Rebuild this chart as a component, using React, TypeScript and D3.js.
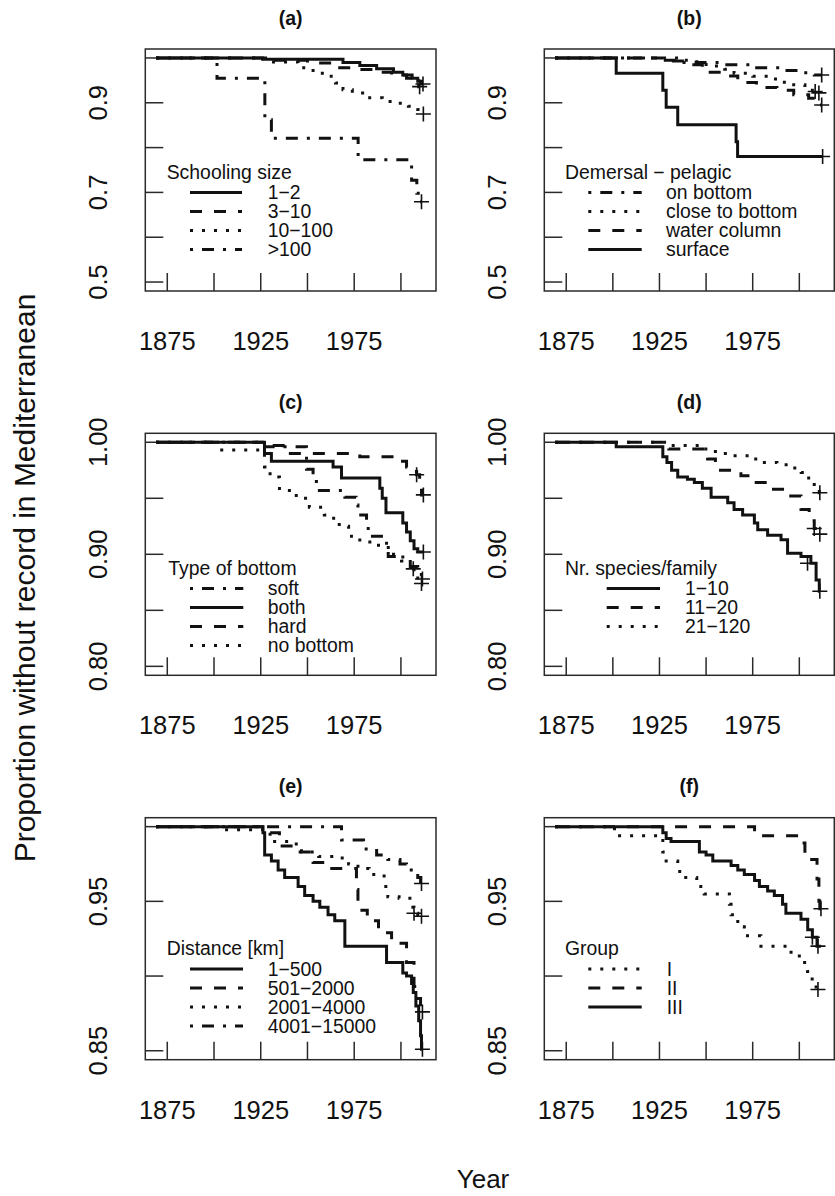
import React from 'react';
import * as d3 from 'd3';

type Pt = [number, number];

// ---------- x axis ----------
const xTicks = [1875, 1900, 1925, 1950, 1975, 2000];
const xTickLabels = [1875, 1925, 1975];

// ---------- (a) Schooling size ----------
const aLabels = ['1−2', '3−10', '10−100', '>100'];
const a_1_2: Pt[] = [[1869, 1], [1926, 0.997], [1969, 0.99], [1978, 0.983], [1987, 0.976], [1996, 0.968], [2001, 0.962], [2006, 0.955], [2009, 0.948], [2011, 0.942], [2011.8, 0.942]];
const a_3_10: Pt[] = [[1869, 1], [1928, 0.995], [1950, 0.989], [1964, 0.978], [1975, 0.974], [1985, 0.968], [1995, 0.962], [2003, 0.955], [2008, 0.945], [2009.5, 0.936], [2010, 0.936]];
const a_10_100: Pt[] = [[1869, 1], [1930, 0.991], [1945, 0.985], [1948, 0.978], [1953, 0.966], [1959, 0.959], [1965, 0.944], [1969, 0.929], [1974, 0.922], [1981, 0.911], [1990, 0.903], [1998, 0.899], [2004, 0.892], [2009, 0.885], [2011, 0.875], [2012, 0.875]];
const a_100: Pt[] = [[1869, 1], [1901.6, 0.955], [1927.2, 0.862], [1930.7, 0.821], [1977.1, 0.773], [2005.7, 0.727], [2008.5, 0.698], [2010.3, 0.679], [2011, 0.679]];

// ---------- (b) Demersal - pelagic ----------
const bLabels = ['on bottom', 'close to bottom', 'water column', 'surface'];
const b_on: Pt[] = [[1869, 1], [1927, 0.995], [1945, 0.99], [1960, 0.985], [1975, 0.978], [1990, 0.972], [2000, 0.967], [2008, 0.962], [2012, 0.962]];
const b_close: Pt[] = [[1869, 1], [1935, 0.99], [1950, 0.982], [1960, 0.975], [1965, 0.966], [1975, 0.959], [1985, 0.953], [1990, 0.946], [1997, 0.94], [2003, 0.935], [2007, 0.928], [2009, 0.922], [2010.5, 0.922]];
const b_water: Pt[] = [[1869, 1], [1930, 0.993], [1940, 0.985], [1948, 0.968], [1958, 0.96], [1967, 0.945], [1977, 0.934], [1988, 0.928], [1997, 0.918], [2005, 0.91], [2009, 0.9], [2011, 0.895], [2012, 0.895]];
const b_surface: Pt[] = [[1869, 1], [1901.8, 0.966], [1926.8, 0.928], [1928.6, 0.89], [1934.8, 0.851], [1966.1, 0.813], [1966.9, 0.78], [2012.5, 0.78]];

// ---------- (c) Type of bottom ----------
const cLabels = ['soft', 'both', 'hard', 'no bottom'];
const c_soft: Pt[] = [[1869, 1], [1927, 0.996], [1949.5, 0.976], [1953, 0.965], [1954.8, 0.957], [1970, 0.951], [1976, 0.944], [1977, 0.935], [1981.6, 0.925], [1982.5, 0.916], [1992.3, 0.905], [1993.2, 0.898], [2000.3, 0.894], [2005, 0.889], [2009, 0.882], [2011, 0.878], [2011.5, 0.878]];
const c_both: Pt[] = [[1869, 1], [1927, 0.99], [1930.7, 0.983], [1963.7, 0.978], [1968.2, 0.968], [1988.7, 0.959], [1990, 0.95], [1992, 0.937], [2001, 0.928], [2003, 0.92], [2005, 0.912], [2007, 0.905], [2009, 0.902], [2012, 0.902]];
const c_hard: Pt[] = [[1869, 1], [1929, 0.997], [1937, 0.99], [1978, 0.987], [1999, 0.983], [2003, 0.978], [2006, 0.974], [2008.4, 0.971], [2010, 0.962], [2011, 0.953], [2012, 0.953]];
const c_none: Pt[] = [[1869, 1], [1903, 0.993], [1927, 0.978], [1930, 0.969], [1935, 0.957], [1944, 0.95], [1951, 0.942], [1959, 0.935], [1964, 0.93], [1967, 0.925], [1972, 0.916], [1978, 0.911], [1988, 0.906], [1996, 0.9], [2001, 0.895], [2005, 0.89], [2007, 0.884], [2009, 0.876], [2011, 0.874]];

// ---------- (d) Nr. species/family ----------
const dLabels = ['1−10', '11−20', '21−120'];
const d_1_10: Pt[] = [[1869, 1], [1901.8, 0.996], [1926.8, 0.987], [1929, 0.982], [1931.5, 0.975], [1934.8, 0.969], [1940, 0.967], [1943.7, 0.964], [1948, 0.959], [1952.7, 0.951], [1961.6, 0.946], [1965, 0.94], [1969.6, 0.935], [1975.9, 0.928], [1977.7, 0.922], [1983, 0.917], [1990.2, 0.913], [1993.7, 0.901], [2000.9, 0.898], [2006.2, 0.892], [2009, 0.877], [2010.7, 0.867], [2011, 0.867]];
const d_11_20: Pt[] = [[1869, 1], [1930, 0.994], [1950.8, 0.985], [1955, 0.975], [1968.7, 0.97], [1975.9, 0.964], [1984.8, 0.958], [1991, 0.952], [2000.9, 0.94], [2005.3, 0.93], [2008, 0.923], [2010.7, 0.918], [2011, 0.918]];
const d_21_120: Pt[] = [[1869, 1], [1930, 0.997], [1947, 0.994], [1955, 0.99], [1963, 0.988], [1972, 0.985], [1980, 0.982], [1988, 0.98], [1995, 0.977], [2001, 0.973], [2004, 0.968], [2008, 0.96], [2010.7, 0.955], [2011, 0.955]];

// ---------- (e) Distance [km] ----------
const eLabels = ['1−500', '501−2000', '2001−4000', '4001−15000'];
const e_1_500: Pt[] = [[1869, 1], [1926.2, 0.996], [1927.1, 0.981], [1930.7, 0.977], [1934.3, 0.971], [1937.8, 0.966], [1945, 0.96], [1948.5, 0.954], [1953, 0.95], [1956.6, 0.946], [1961, 0.941], [1964.6, 0.937], [1970, 0.92], [1992.3, 0.909], [2001, 0.902], [2003, 0.9], [2005.7, 0.895], [2006.6, 0.889], [2008, 0.88], [2009.5, 0.87], [2010.5, 0.86], [2011, 0.851], [2011.5, 0.851]];
const e_501_2000: Pt[] = [[1869, 1], [1928, 0.996], [1935, 0.987], [1946.8, 0.983], [1953, 0.976], [1960, 0.972], [1976.2, 0.958], [1977, 0.944], [1982, 0.937], [1988, 0.929], [1995, 0.922], [2003, 0.909], [2007, 0.893], [2009, 0.885], [2010.5, 0.876], [2011.5, 0.876]];
const e_2001_4000: Pt[] = [[1869, 1], [1904.8, 0.998], [1927, 0.995], [1930, 0.99], [1944, 0.983], [1956, 0.98], [1963, 0.979], [1972, 0.975], [1977, 0.972], [1983, 0.968], [1991, 0.96], [1993, 0.953], [1999, 0.952], [2004.8, 0.946], [2007, 0.942], [2009, 0.94], [2011, 0.94]];
const e_4001_15000: Pt[] = [[1869, 1], [1968.2, 0.991], [1980, 0.985], [1987, 0.981], [1993, 0.978], [1999.5, 0.975], [2003, 0.971], [2009, 0.966], [2010.5, 0.962], [2011, 0.962]];

// ---------- (f) Group ----------
const fLabels = ['I', 'II', 'III'];
const f_I: Pt[] = [[1869, 1], [1900.9, 0.994], [1926.8, 0.983], [1928.6, 0.977], [1934.8, 0.97], [1938, 0.966], [1945, 0.96], [1949, 0.955], [1962.5, 0.948], [1963.4, 0.941], [1967, 0.933], [1970.5, 0.927], [1979.4, 0.92], [1993.7, 0.916], [2000, 0.909], [2004.4, 0.903], [2006, 0.898], [2009, 0.891], [2010, 0.891]];
const f_II: Pt[] = [[1869, 1], [1976, 0.994], [2001, 0.989], [2003, 0.978], [2009.5, 0.965], [2010.5, 0.95], [2011, 0.945], [2011.6, 0.945]];
const f_III: Pt[] = [[1869, 1], [1926.8, 0.996], [1928.6, 0.992], [1931.2, 0.99], [1946.4, 0.983], [1950, 0.981], [1953.6, 0.977], [1963.4, 0.974], [1967, 0.971], [1970.5, 0.968], [1976, 0.964], [1978.6, 0.96], [1983, 0.957], [1986.6, 0.954], [1991, 0.948], [1992.8, 0.942], [2000.9, 0.938], [2004.5, 0.931], [2007, 0.926], [2009.5, 0.92], [2011.6, 0.92]];

// censor marks
const censA: Pt[][] = [[[2011.8, 0.942]], [[2010, 0.936]], [[2012, 0.875]], [[2011, 0.679]]];
const censB: Pt[][] = [[[2012, 0.962]], [[2010.5, 0.922]], [[2012, 0.895], [2008.5, 0.925]], [[2012.5, 0.78]]];
const censC: Pt[][] = [[[2011.5, 0.878]], [[2012, 0.902]], [[2008.4, 0.971], [2012, 0.953]], [[2006.6, 0.887], [2011, 0.874]]];
const censD: Pt[][] = [[[2004.4, 0.892], [2011, 0.867]], [[2008, 0.923], [2011, 0.918]], [[2011, 0.955]]];
const censE: Pt[][] = [[[2011.5, 0.851]], [[2011.5, 0.876]], [[2007, 0.942], [2011, 0.94]], [[2011, 0.962]]];
const censF: Pt[][] = [[[2010, 0.891]], [[2011.6, 0.945]], [[2007, 0.926], [2010, 0.92]]];

type Lty = 'solid' | 'dashed' | 'dotted' | 'dotdash';
const dash: Record<Lty, string | undefined> = {
  solid: undefined,
  dashed: '12,12',
  dotted: '3,9',
  dotdash: '3,9,12,9',
};

const colX = [145.3, 544.3];
const colW = [290.7, 290];
const rowY = [49, 433.3, 817.7];
const PH = 242;

interface Series { label: string; lty: Lty; data: Pt[]; cens: Pt[] }
interface PanelDef {
  title: string; col: number; row: number;
  yDomain: [number, number]; yTicks: number[]; yLabels: number[]; fmt: string;
  legendTitle: string; series: Series[];
  lg: { titleX: number; lineX1: number; lineX2: number; textX: number; titleY: number };
}

const panels: PanelDef[] = [
  {
    title: '(a)', col: 0, row: 0, yDomain: [0.48, 1.02], yTicks: [0.5, 0.6, 0.7, 0.8, 0.9, 1.0], yLabels: [0.5, 0.7, 0.9], fmt: '.1f',
    legendTitle: 'Schooling size',
    series: [
      { label: aLabels[0], lty: 'solid', data: a_1_2, cens: censA[0] },
      { label: aLabels[1], lty: 'dashed', data: a_3_10, cens: censA[1] },
      { label: aLabels[2], lty: 'dotted', data: a_10_100, cens: censA[2] },
      { label: aLabels[3], lty: 'dotdash', data: a_100, cens: censA[3] },
    ],
    lg: { titleX: 166.7, lineX1: 190, lineX2: 242, textX: 267.7, titleY: 178.5 },
  },
  {
    title: '(b)', col: 1, row: 0, yDomain: [0.48, 1.02], yTicks: [0.5, 0.6, 0.7, 0.8, 0.9, 1.0], yLabels: [0.5, 0.7, 0.9], fmt: '.1f',
    legendTitle: 'Demersal − pelagic',
    series: [
      { label: bLabels[0], lty: 'dotdash', data: b_on, cens: censB[0] },
      { label: bLabels[1], lty: 'dotted', data: b_close, cens: censB[1] },
      { label: bLabels[2], lty: 'dashed', data: b_water, cens: censB[2] },
      { label: bLabels[3], lty: 'solid', data: b_surface, cens: censB[3] },
    ],
    lg: { titleX: 565, lineX1: 588.3, lineX2: 641.7, textX: 666, titleY: 178.5 },
  },
  {
    title: '(c)', col: 0, row: 1, yDomain: [0.792, 1.008], yTicks: [0.8, 0.85, 0.9, 0.95, 1.0], yLabels: [0.8, 0.9, 1.0], fmt: '.2f',
    legendTitle: 'Type of bottom',
    series: [
      { label: cLabels[0], lty: 'dotdash', data: c_soft, cens: censC[0] },
      { label: cLabels[1], lty: 'solid', data: c_both, cens: censC[1] },
      { label: cLabels[2], lty: 'dashed', data: c_hard, cens: censC[2] },
      { label: cLabels[3], lty: 'dotted', data: c_none, cens: censC[3] },
    ],
    lg: { titleX: 168.3, lineX1: 190, lineX2: 243.3, textX: 267.7, titleY: 574.6 },
  },
  {
    title: '(d)', col: 1, row: 1, yDomain: [0.792, 1.008], yTicks: [0.8, 0.85, 0.9, 0.95, 1.0], yLabels: [0.8, 0.9, 1.0], fmt: '.2f',
    legendTitle: 'Nr. species/family',
    series: [
      { label: dLabels[0], lty: 'solid', data: d_1_10, cens: censD[0] },
      { label: dLabels[1], lty: 'dashed', data: d_11_20, cens: censD[1] },
      { label: dLabels[2], lty: 'dotted', data: d_21_120, cens: censD[2] },
    ],
    lg: { titleX: 565, lineX1: 606.7, lineX2: 660, textX: 685, titleY: 574.6 },
  },
  {
    title: '(e)', col: 0, row: 2, yDomain: [0.844, 1.006], yTicks: [0.85, 0.9, 0.95, 1.0], yLabels: [0.85, 0.95], fmt: '.2f',
    legendTitle: 'Distance [km]',
    series: [
      { label: eLabels[0], lty: 'solid', data: e_1_500, cens: censE[0] },
      { label: eLabels[1], lty: 'dashed', data: e_501_2000, cens: censE[1] },
      { label: eLabels[2], lty: 'dotted', data: e_2001_4000, cens: censE[2] },
      { label: eLabels[3], lty: 'dotdash', data: e_4001_15000, cens: censE[3] },
    ],
    lg: { titleX: 166.7, lineX1: 190, lineX2: 243, textX: 267.7, titleY: 955 },
  },
  {
    title: '(f)', col: 1, row: 2, yDomain: [0.844, 1.006], yTicks: [0.85, 0.9, 0.95, 1.0], yLabels: [0.85, 0.95], fmt: '.2f',
    legendTitle: 'Group',
    series: [
      { label: fLabels[0], lty: 'dotted', data: f_I, cens: censF[0] },
      { label: fLabels[1], lty: 'dashed', data: f_II, cens: censF[1] },
      { label: fLabels[2], lty: 'solid', data: f_III, cens: censF[2] },
    ],
    lg: { titleX: 565, lineX1: 588.3, lineX2: 641.7, textX: 666.7, titleY: 955 },
  },
];

const INK = '#111';
const AXIS = '#2a2a2a';
const TICKLEN = 18;

function Panel({ p }: { p: PanelDef }) {
  const x0 = colX[p.col];
  const w = colW[p.col];
  const y0 = rowY[p.row];
  const x = d3.scaleLinear().domain([1863.24, 2018.76]).range([x0, x0 + w]);
  const y = d3.scaleLinear().domain(p.yDomain).range([y0 + PH, y0]);
  const line = d3.line<Pt>().x(d => x(d[0])).y(d => y(d[1])).curve(d3.curveStepAfter);
  const fmt = d3.format(p.fmt);
  const cx = x0 + w / 2;
  const labelBaseX = x0 - 38.3;
  const xLabelBase = y0 + PH + 59;
  return (
    <g>
      <text x={cx} y={y0 - 24.5} textAnchor="middle" fontSize={19.5} fontWeight="bold" fill={INK}>{p.title}</text>
      <rect x={x0} y={y0} width={w} height={PH} fill="none" stroke={AXIS} strokeWidth={1.5} />
      {p.yTicks.map(t => (
        <line key={'yt' + t} x1={x0} x2={x0 + TICKLEN} y1={y(t)} y2={y(t)} stroke={AXIS} strokeWidth={1.5} />
      ))}
      {p.yLabels.map(t => (
        <text key={'yl' + t} transform={`translate(${labelBaseX},${y(t)}) rotate(-90)`} textAnchor="middle" fontSize={25.5} fill={INK}>{fmt(t)}</text>
      ))}
      {xTicks.map(t => (
        <line key={'xt' + t} x1={x(t)} x2={x(t)} y1={y0 + PH} y2={y0 + PH - TICKLEN} stroke={AXIS} strokeWidth={1.5} />
      ))}
      {xTickLabels.map(t => (
        <text key={'xl' + t} x={x(t)} y={xLabelBase} textAnchor="middle" fontSize={25.5} fill={INK}>{t}</text>
      ))}
      {p.series.map(s => (
        <path key={'s' + s.label} d={line(s.data) || ''} fill="none" stroke={INK} strokeWidth={3} strokeDasharray={dash[s.lty]} strokeLinecap="butt" strokeLinejoin="miter" />
      ))}
      {p.series.map(s => s.cens.map((c, i) => (
        <path key={'c' + s.label + i} d={`M${x(c[0]) - 7.5},${y(c[1])}h15M${x(c[0])},${y(c[1]) - 7.5}v15`} stroke={INK} strokeWidth={1.6} fill="none" />
      )))}
      <text x={p.lg.titleX} y={p.lg.titleY} fontSize={19.4} fill={INK}>{p.legendTitle}</text>
      {p.series.map((s, i) => {
        const by = p.lg.titleY + 20.5 + 19 * i;
        return (
          <g key={'lg' + s.label}>
            <line x1={p.lg.lineX1} x2={p.lg.lineX2} y1={by - 6.5} y2={by - 6.5} stroke={INK} strokeWidth={3} strokeDasharray={dash[s.lty]} />
            <text x={p.lg.textX} y={by} fontSize={19.4} fill={INK}>{s.label}</text>
          </g>
        );
      })}
    </g>
  );
}

export default function App() {
  return (
    <svg width={835} height={1196} style={{ position: 'absolute', left: 0, top: 0, background: '#fff' }}
      fontFamily="'Liberation Sans', Arial, Helvetica, sans-serif">
      <rect x={0} y={0} width={835} height={1196} fill="#fff" />
      {panels.map(p => <Panel key={p.title} p={p} />)}
      <text transform="translate(35,578) rotate(-90)" textAnchor="middle" fontSize={30} fill={INK}>Proportion without record in Mediterranean</text>
      <text x={483} y={1188} textAnchor="middle" fontSize={26} fill={INK}>Year</text>
    </svg>
  );
}
